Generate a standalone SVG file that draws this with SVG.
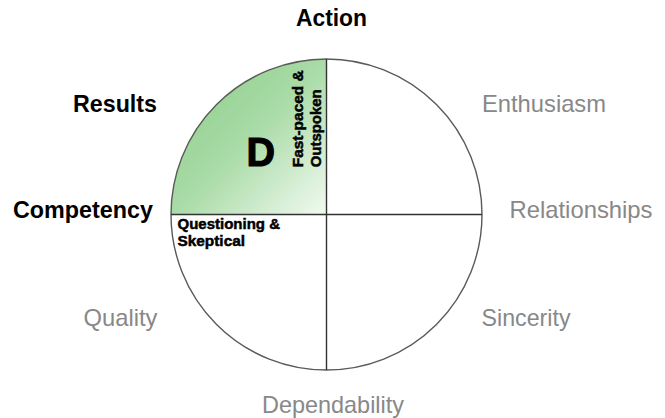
<svg xmlns="http://www.w3.org/2000/svg" width="665" height="418" viewBox="0 0 665 418">
<defs>
<linearGradient id="green" x1="0" y1="0" x2="1" y2="1">
<stop offset="0" stop-color="#88cc86"/>
<stop offset="0.5" stop-color="#a9dba7"/>
<stop offset="1" stop-color="#f2faf1"/>
</linearGradient>
<style>
.axis{font-family:"Liberation Sans",Arial,sans-serif;font-weight:bold;font-size:24px;fill:#000}
.trait{font-family:"Liberation Sans",Arial,sans-serif;font-size:24px;fill:#888888}
.small{font-family:"Liberation Sans",Arial,sans-serif;font-weight:bold;font-size:15.5px;fill:#000;stroke:#000;stroke-width:0.5}
.big{font-family:"Liberation Sans",Arial,sans-serif;font-weight:bold;font-size:41px;fill:#000;stroke:#000;stroke-width:1.2}
.rim{fill:none;stroke:#5a5a5a;stroke-width:1.4}
.cross{stroke:#333;stroke-width:1.4;fill:none}
</style>
</defs>
<rect width="665" height="418" fill="#fff"/>
<g id="quadrant-d">
<path d="M326.5,214.5 L171,214.5 A155.5,155.5 0 0 1 326.5,59 Z" fill="url(#green)"/>
<text class="big" x="246.5" y="166.2" textLength="28.5" lengthAdjust="spacingAndGlyphs">D</text>
<text class="small" transform="translate(303,167.3) rotate(-90)" textLength="97" lengthAdjust="spacingAndGlyphs">Fast-paced &amp;</text>
<text class="small" transform="translate(320.7,167.3) rotate(-90)" textLength="78" lengthAdjust="spacingAndGlyphs">Outspoken</text>
</g>
<g id="circle">
<circle class="rim" cx="326.5" cy="214.5" r="155.5"/>
</g>
<g id="connectors">
<line class="cross" x1="171" y1="214.5" x2="482" y2="214.5"/>
<line class="cross" x1="326.5" y1="59" x2="326.5" y2="370"/>
</g>
<g id="quadrant-c">
<text class="small" x="177.5" y="228.5" textLength="102.5" lengthAdjust="spacingAndGlyphs">Questioning &amp;</text>
<text class="small" x="177.5" y="245.5" textLength="67.5" lengthAdjust="spacingAndGlyphs">Skeptical</text>
</g>
<g id="labels">
<text class="axis" x="296" y="25.5" textLength="71" lengthAdjust="spacingAndGlyphs">Action</text>
<text class="axis" x="73" y="111.5" textLength="84" lengthAdjust="spacingAndGlyphs">Results</text>
<text class="axis" x="13" y="218" textLength="140" lengthAdjust="spacingAndGlyphs">Competency</text>
<text class="trait" x="482" y="112" textLength="124" lengthAdjust="spacingAndGlyphs">Enthusiasm</text>
<text class="trait" x="509.5" y="218" textLength="143" lengthAdjust="spacingAndGlyphs">Relationships</text>
<text class="trait" x="83.5" y="325.5" textLength="74" lengthAdjust="spacingAndGlyphs">Quality</text>
<text class="trait" x="481.5" y="325.5" textLength="89" lengthAdjust="spacingAndGlyphs">Sincerity</text>
<text class="trait" x="262" y="412.5" textLength="142" lengthAdjust="spacingAndGlyphs">Dependability</text>
</g>
</svg>
